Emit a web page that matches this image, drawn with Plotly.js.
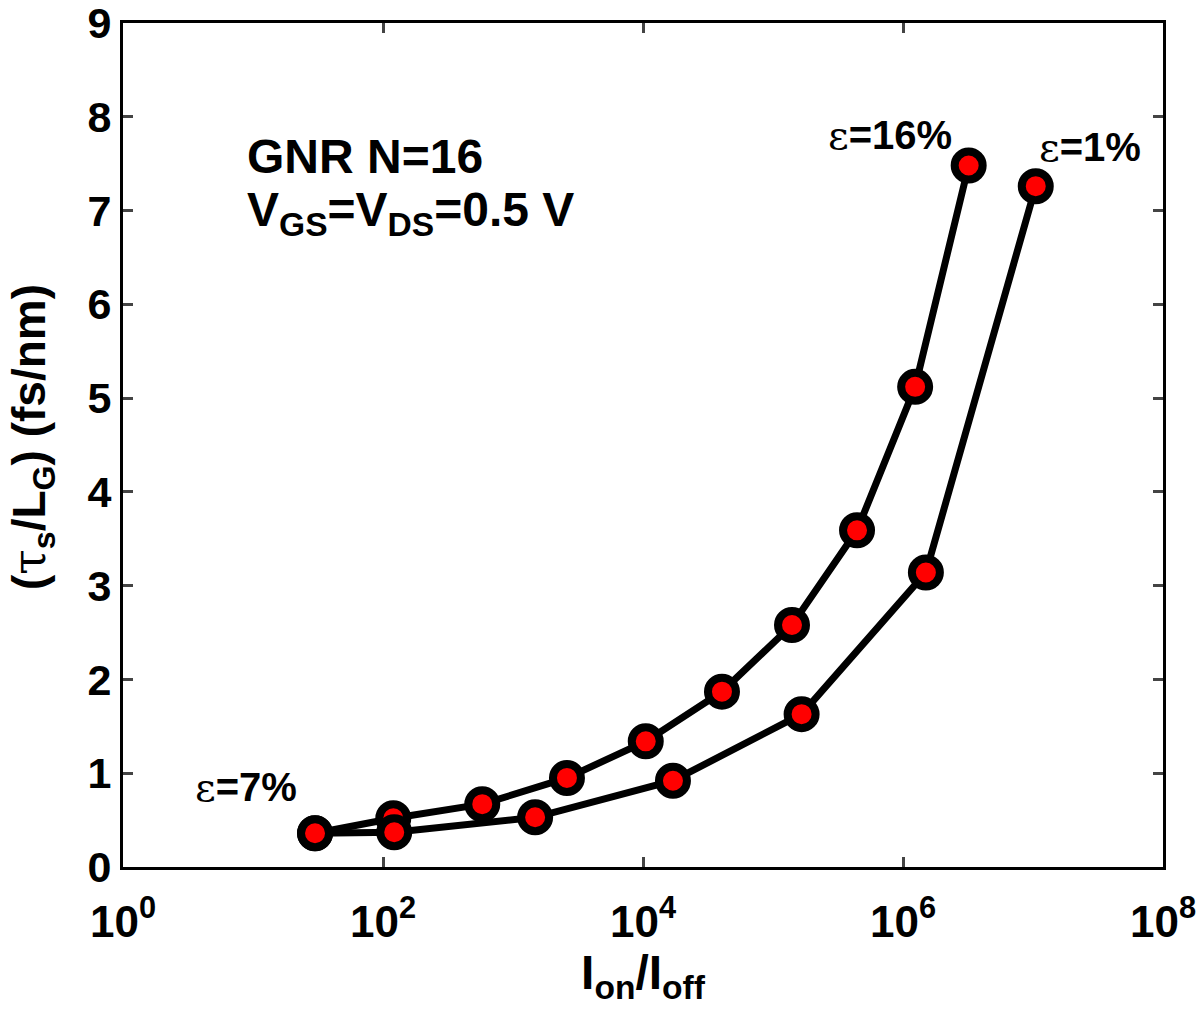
<!DOCTYPE html>
<html>
<head>
<meta charset="utf-8">
<script src="https://cdn.plot.ly/plotly-3.0.1.min.js"></script>
<style>
  html, body { margin: 0; padding: 0; background: #fff; }
  #chart { width: 1200px; height: 1018px; }
</style>
</head>
<body>
<div id="chart"></div>
<script>
// eps = 16% branch
const ratio16 = [30, 120, 580, 2600, 10500, 40500, 140000, 443000, 1.24e6, 3.2e6];
const tau16 = [0.36, 0.52, 0.67, 0.95, 1.34, 1.87, 2.58, 3.59, 5.12, 7.48];
// eps = 1% branch
const ratio1 = [30, 122, 1480, 17000, 166000, 1.5e6, 1.05e7];
const tau1 = [0.36, 0.37, 0.53, 0.92, 1.63, 3.14, 7.26];

const xTickVals = [1, 100, 1e4, 1e6, 1e8];
const xTickText = ['10<sup>0</sup>', '10<sup>2</sup>', '10<sup>4</sup>', '10<sup>6</sup>', '10<sup>8</sup>'];
const yTickVals = [0, 1, 2, 3, 4, 5, 6, 7, 8, 9];

const FONT = 'Liberation Sans, Arial, sans-serif';

function branch(x, y) {
    return {
        x: x,
        y: y,
        type: 'scatter',
        mode: 'lines+markers',
        line: { color: 'black', width: 7 },
        marker: { size: 28, color: '#ff0000', line: { color: 'black', width: 8 } },
        showlegend: false,
        hoverinfo: 'x+y'
    };
}

// greek letters look like a plain symbol font in the original
const greek = s => '<span style="font-family:DejaVu Serif, serif;font-weight:normal">' + s + '</span>';

const label = (text, x, y, anchor, size) => ({
    text: text, xref: 'paper', yref: 'paper', x: x, y: y,
    xanchor: anchor || 'center', yanchor: 'middle', showarrow: false,
    font: { family: FONT, size: size || 40, color: 'black', weight: 'bold' }
});

// y title placed by hand, the axis title sits too far right
const yTitle = Object.assign(
    label('(' + greek('τ') + '<sub>s</sub>/L<sub>G</sub>) (fs/nm)', -0.088, 0.51, 'center', 46),
    { textangle: -90 }
);

const layout = {
    width: 1200,
    height: 1018,
    margin: { l: 123, r: 37, t: 23, b: 151 },
    paper_bgcolor: 'white',
    plot_bgcolor: 'white',
    font: { family: FONT, size: 40, color: 'black', weight: 'bold' },
    xaxis: {
        type: 'log',
        range: [0, 8],
        tickvals: xTickVals,
        ticktext: xTickText,
        ticks: 'inside',
        ticklen: 10,
        tickwidth: 3,
        ticklabelstandoff: 14,
        ticklabeloverflow: 'allow',
        showline: true,
        linewidth: 3,
        linecolor: 'black',
        mirror: 'ticks',
        showgrid: false,
        zeroline: false,
        tickfont: { family: FONT, size: 44, weight: 'bold' },
        title: { text: 'I<sub>on</sub>/I<sub>off</sub>', standoff: 4,
                 font: { family: FONT, size: 48, weight: 'bold' } }
    },
    yaxis: {
        range: [0, 9],
        tickvals: yTickVals,
        ticks: 'inside',
        ticklen: 10,
        tickwidth: 3,
        ticklabeloverflow: 'allow',
        showline: true,
        linewidth: 3,
        linecolor: 'black',
        mirror: 'ticks',
        showgrid: false,
        zeroline: false,
        tickfont: { family: FONT, size: 43, weight: 'bold' }
    },
    annotations: [
        yTitle,
        label('GNR N=16', 0.117, 0.842, 'left', 48),
        label('V<sub>GS</sub>=V<sub>DS</sub>=0.5 V', 0.117, 0.775, 'left', 48),
        label(greek('ε') + '=16%', 0.7375, 0.867),
        label(greek('ε') + '=1%', 0.93, 0.853),
        label(greek('ε') + '=7%', 0.118, 0.095)
    ]
};

Plotly.newPlot('chart', [branch(ratio16, tau16), branch(ratio1, tau1)], layout, { displayModeBar: false });
</script>
</body>
</html>
